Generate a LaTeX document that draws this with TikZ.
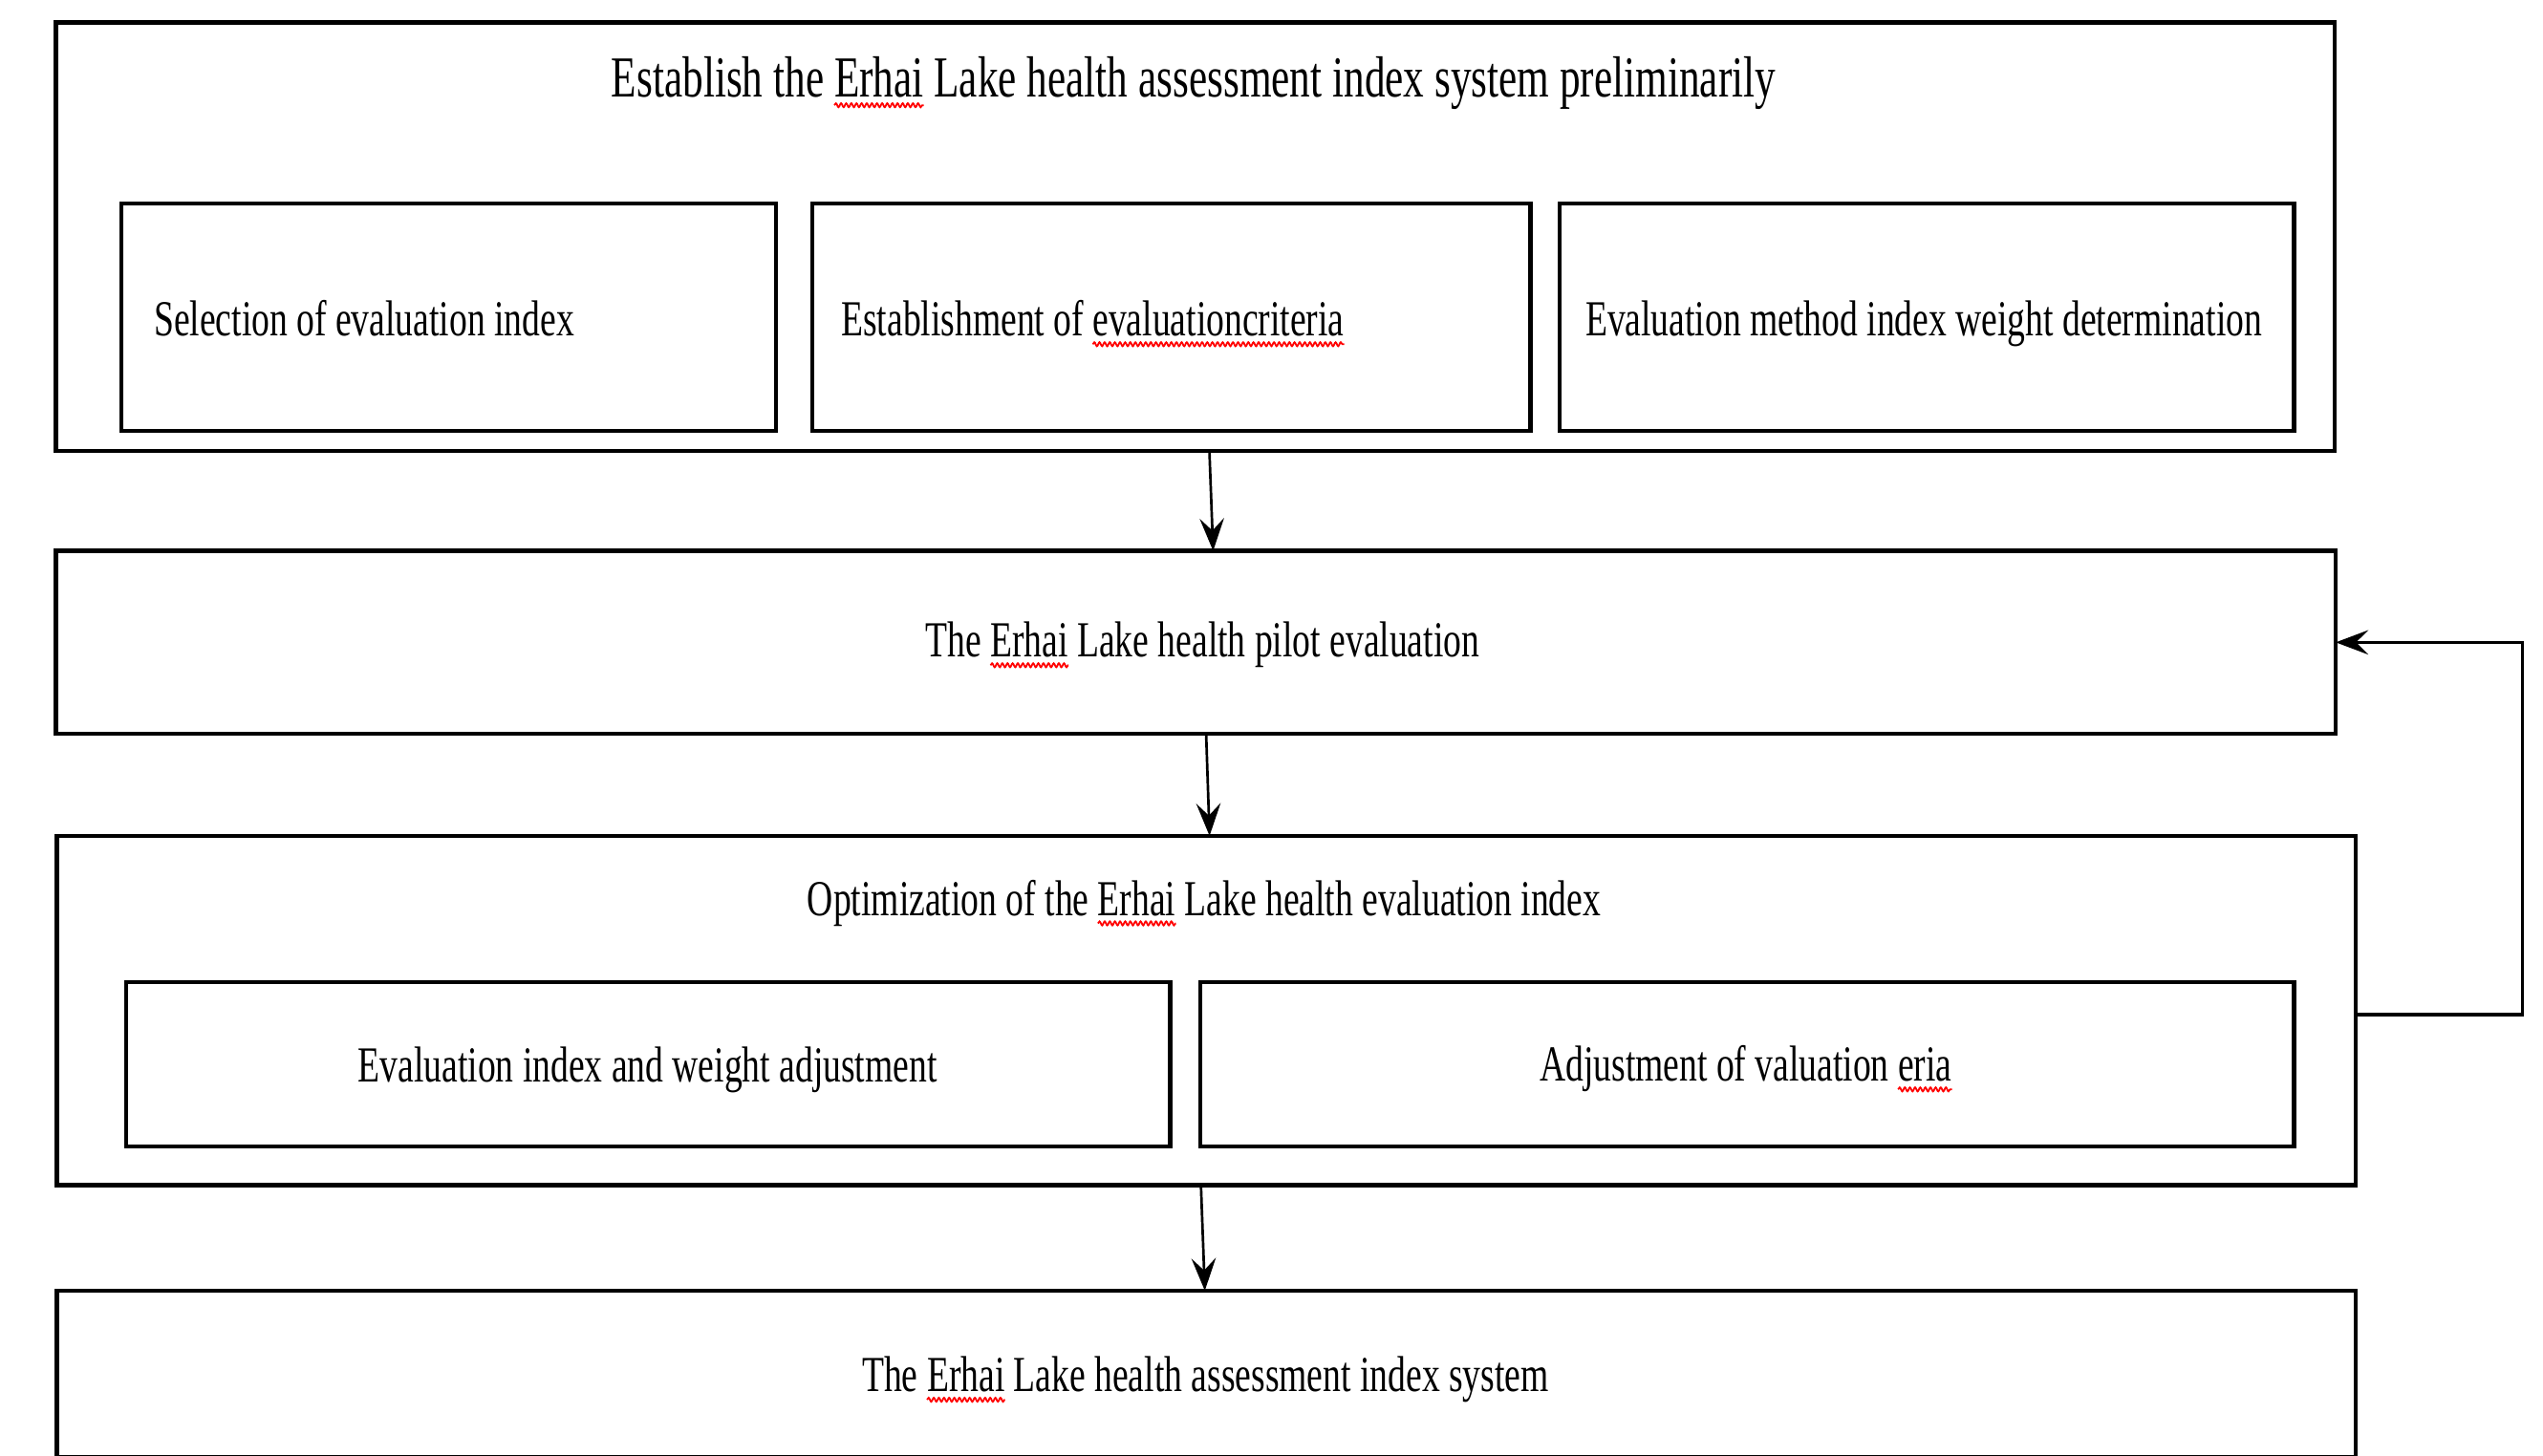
\documentclass[tikz,border=0pt]{standalone}
\usepackage{fontspec}
\setmainfont{Liberation Serif}[FakeStretch=0.712]
\usetikzlibrary{arrows.meta,decorations.pathmorphing}
\newcommand\spellmark[1]{\tikz[baseline=(sw.base)]{\node[inner sep=0pt,outer sep=0pt] (sw) {#1};
  \draw[overlay, red, line width=0.3pt, decorate, decoration={snake, segment length=0.9pt, amplitude=0.35pt}]
    ([yshift=-1.4pt]sw.base west) -- ([yshift=-1.4pt]sw.base east);}}
\begin{document}
\begin{tikzpicture}[x=0.01cm,y=-0.01cm,
  box/.style={draw, line width=0.75pt, inner sep=0pt, outer sep=0pt},
  txt/.style={inner sep=0pt, outer sep=0pt, font=\fontsize{8.85pt}{10pt}\selectfont},
  ttl/.style={inner sep=0pt, outer sep=0pt, font=\fontsize{10.18pt}{12pt}\selectfont},
  arr/.style={line width=0.45pt, -{Stealth[length=0.2cm, width=0.15cm, inset=0.075cm]}},
  fb/.style={arr, line width=0.6pt}]
\useasboundingbox[fill=white] (0,0) rectangle (1568,898);
% outer boxes
\node[box, minimum width=14.042cm, minimum height=2.639cm] (A) at (736.9,146) {};
\node[box, minimum width=14.048cm, minimum height=1.128cm] (B) at (737.4,396.2) {};
\node[box, minimum width=14.166cm, minimum height=2.153cm] (C) at (743.7,623.25) {};
\node[box, minimum width=14.166cm, minimum height=1.024cm] (D) at (743.7,847.3) {};
% inner boxes
\node[box, minimum width=4.035cm, minimum height=1.403cm] (A1) at (276.75,195.65) {};
\node[box, minimum width=4.425cm, minimum height=1.403cm] (A2) at (722.25,195.65) {};
\node[box, minimum width=4.526cm, minimum height=1.403cm] (A3) at (1188,195.65) {};
\node[box, minimum width=6.433cm, minimum height=1.014cm] (C1) at (399.65,656.4) {};
\node[box, minimum width=6.741cm, minimum height=1.014cm] (C2) at (1077.25,656.4) {};
% texts
\node[ttl, anchor=base] (tA) at (736,60) {Establish the \spellmark{Erhai} Lake health assessment index system preliminarily};
\node[txt, anchor=base west] (tA1) at (95,207.4) {Selection of evaluation index};
\node[txt, anchor=base west] (tA2) at (518.7,207.4) {Establishment of \spellmark{evaluationcriteria}};
\node[txt, anchor=base] (tA3) at (1186.2,207.4) {Evaluation method index weight determination};
\node[txt, anchor=base] (tB) at (741.5,405.4) {The \spellmark{Erhai} Lake health pilot evaluation};
\node[txt, anchor=base] (tC) at (742.5,564.6) {Optimization of the \spellmark{Erhai} Lake health evaluation index};
\node[txt, anchor=base] (tC1) at (399.3,667.5) {Evaluation index and weight adjustment};
\node[txt, anchor=base] (tC2) at (1076.5,667) {Adjustment of valuation \spellmark{eria}};
\node[txt, anchor=base] (tD) at (743.3,858.4) {The \spellmark{Erhai} Lake health assessment index system};
% connectors
\draw[arr] ([xshift=0.088cm]A.south) -- ([xshift=0.106cm]B.north);
\draw[arr] ([xshift=0.063cm]B.south) -- ([xshift=0.021cm]C.north);
\draw[arr] ([xshift=-0.032cm]C.south) -- ([xshift=-0.008cm]D.north);
\draw[fb] ([yshift=-0.025cm]C.east) -- ++(103,0) |- (B.east);
\end{tikzpicture}
\end{document}
